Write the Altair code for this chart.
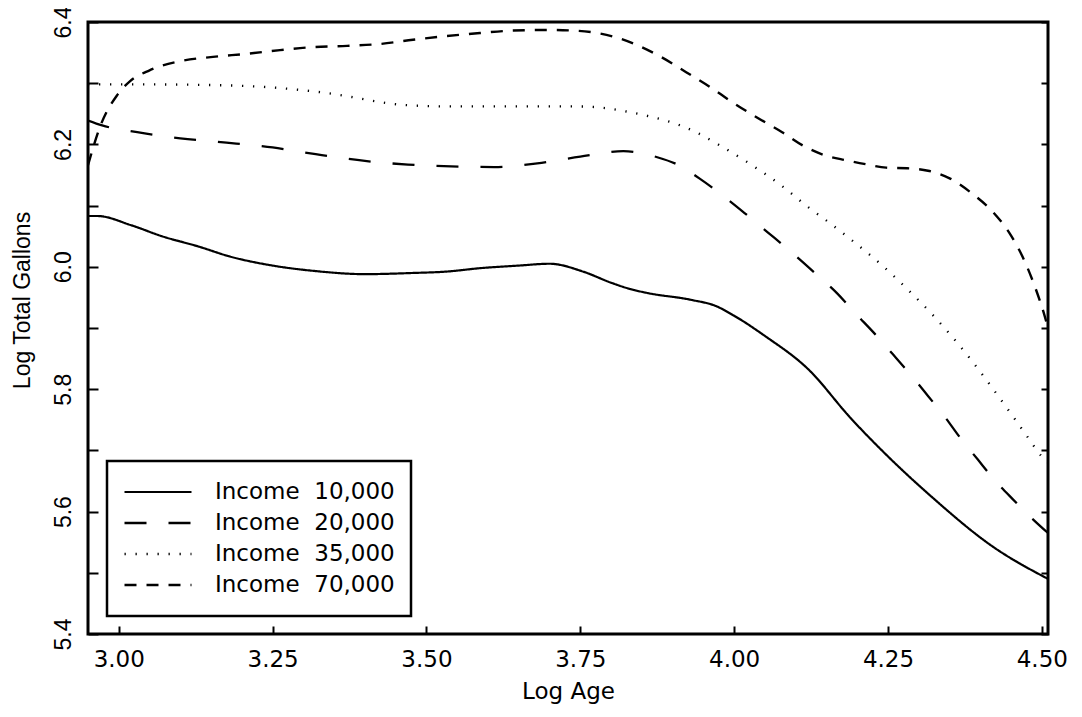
import altair as alt
import pandas as pd

series_names = ["Income\u00a0 10,000", "Income\u00a0 20,000", "Income\u00a0 35,000", "Income\u00a0 70,000"]

inc10_x = [2.95, 2.965, 3.02, 3.07, 3.13, 3.18, 3.25, 3.32, 3.40, 3.48, 3.53, 3.59, 3.65, 3.70, 3.755,
           3.80, 3.83, 3.86, 3.93, 3.97, 4.00, 4.05, 4.12, 4.19, 4.24, 4.32, 4.42, 4.51]
inc10_y = [6.083, 6.083, 6.068, 6.05, 6.033, 6.017, 6.002, 5.993, 5.988, 5.99, 5.992, 5.998, 6.002, 6.005, 5.992,
           5.974, 5.964, 5.957, 5.946, 5.936, 5.92, 5.887, 5.833, 5.752, 5.70, 5.625, 5.543, 5.49]

inc20_x = [2.95, 2.973, 3.03, 3.10, 3.175, 3.25, 3.32, 3.40, 3.47, 3.54, 3.61, 3.68, 3.75, 3.82, 3.875,
           3.91, 3.944, 3.982, 4.018, 4.055, 4.094, 4.131, 4.167, 4.198, 4.229, 4.258, 4.289, 4.315,
           4.343, 4.367, 4.396, 4.421, 4.453, 4.486, 4.51]
inc20_y = [6.239, 6.231, 6.22, 6.21, 6.203, 6.195, 6.184, 6.173, 6.167, 6.164, 6.163, 6.169, 6.18, 6.189, 6.179,
           6.166, 6.144, 6.116, 6.087, 6.056, 6.023, 5.99, 5.957, 5.923, 5.89, 5.857, 5.821, 5.789,
           5.754, 5.721, 5.685, 5.654, 5.62, 5.587, 5.565]

inc35_x = [2.95, 3.05, 3.15, 3.25, 3.33, 3.47, 3.54, 3.62, 3.70, 3.75, 3.834, 3.938, 3.974, 4.029, 4.083,
           4.117, 4.152, 4.188, 4.243, 4.291, 4.323, 4.364, 4.452, 4.476, 4.50, 4.51]
inc35_y = [6.298, 6.298, 6.297, 6.293, 6.285, 6.264, 6.262, 6.262, 6.262, 6.262, 6.252, 6.22, 6.20, 6.166, 6.128,
           6.10, 6.074, 6.046, 6.0, 5.954, 5.921, 5.874, 5.757, 5.723, 5.69, 5.68]

inc70_x = [2.95, 2.97, 2.997, 3.018, 3.05, 3.10, 3.153, 3.208, 3.262, 3.316, 3.371, 3.424, 3.478, 3.533,
           3.587, 3.64, 3.696, 3.74, 3.811, 3.881, 3.922, 3.962, 3.997, 4.037, 4.078, 4.112, 4.148, 4.182,
           4.217, 4.247, 4.281, 4.315, 4.351, 4.385, 4.421, 4.45, 4.473, 4.49, 4.503, 4.51]
inc70_y = [6.166, 6.23, 6.28, 6.303, 6.321, 6.336, 6.343, 6.348, 6.354, 6.359, 6.361, 6.364, 6.371, 6.377,
           6.382, 6.386, 6.387, 6.386, 6.374, 6.343, 6.318, 6.293, 6.269, 6.244, 6.22, 6.198, 6.182, 6.174,
           6.167, 6.162, 6.161, 6.157, 6.144, 6.121, 6.089, 6.051, 6.007, 5.964, 5.925, 5.90]

x_ticks = [3.00, 3.25, 3.50, 3.75, 4.00, 4.25, 4.50]
y_ticks = [5.4, 5.5, 5.6, 5.7, 5.8, 5.9, 6.0, 6.1, 6.2, 6.3, 6.4]

rows = []
for name, xs_, ys_ in zip(series_names, [inc10_x, inc20_x, inc35_x, inc70_x], [inc10_y, inc20_y, inc35_y, inc70_y]):
    for i, (a, g) in enumerate(zip(xs_, ys_)):
        rows.append({"series": name, "age": a, "gal": g, "order": i})
df = pd.DataFrame(rows)

dash_range = [[1, 0], [22, 22], [1.3, 9.7], [12, 10]]
width_range = [2.2, 2.4, 1.3, 2.0]

xs = alt.Scale(domain=[2.95, 4.51], nice=False, zero=False)
ys = alt.Scale(domain=[5.4, 6.4], nice=False, zero=False)

x_axis = alt.Axis(values=x_ticks, format=".2f", title="Log Age", domain=False, grid=False,
                  ticks=True, tickSize=8, offset=-8, tickWidth=2, tickColor="black",
                  labelPadding=14, labelFont="DejaVu Sans", labelFontSize=23, labelColor="black",
                  labelFlush=False, labelOverlap=False,
                  titleFont="DejaVu Sans", titleFontSize=23, titleFontWeight="normal", titleColor="black",
                  titleY=65, titleBaseline="middle")

y_axis = alt.Axis(values=y_ticks,
                  labelExpr="abs(datum.value*10 - 2*round(datum.value*5)) < 0.01 ? format(datum.value, '.1f') : ''",
                  title="Log Total Gallons", domain=False, grid=False,
                  ticks=True, tickSize=10, offset=-10, tickWidth=2, tickColor="black",
                  labelAngle=270, labelAlign="center", labelBaseline="middle", labelPadding=25,
                  labelFont="Liberation Sans", labelFontSize=23, labelColor="black",
                  labelFlush=False, labelOverlap=False,
                  titleFont="Liberation Sans", titleFontSize=23, titleFontWeight="normal",
                  titleColor="black", titleAngle=270, titleX=-76, titleY=278,
                  titleAlign="center", titleBaseline="middle")

legend = alt.Legend(title=None, orient="none", legendX=19, legendY=439, symbolType="stroke",
                    symbolSize=4489, symbolStrokeWidth=2, symbolStrokeColor="black",
                    labelFont="DejaVu Sans", labelFontSize=23, labelColor="black", labelOffset=22,
                    labelLimit=0, padding=16, rowPadding=1, clipHeight=30,
                    strokeColor="black", fillColor="white")

lines = alt.Chart(df).mark_line(interpolate="monotone", color="black", clip=True).encode(
    x=alt.X("age:Q", scale=xs, axis=x_axis),
    y=alt.Y("gal:Q", scale=ys, axis=y_axis),
    strokeDash=alt.StrokeDash("series:N", scale=alt.Scale(domain=series_names, range=dash_range), legend=legend),
    strokeWidth=alt.StrokeWidth("series:N", scale=alt.Scale(domain=series_names, range=width_range), legend=None),
    detail="series:N",
    order="order:Q",
)

right = alt.Chart(df).mark_line(opacity=0).encode(
    x=alt.X("age:Q", scale=xs, axis=x_axis),
    y=alt.Y("gal:Q", scale=ys, axis=alt.Axis(orient="right", values=y_ticks, labels=False, ticks=True,
                                             tickSize=7, offset=-7, tickWidth=2, tickColor="black",
                                             domain=False, grid=False, title=None)),
    detail="series:N",
    order="order:Q",
)

chart = alt.layer(lines, right).resolve_scale(y="independent").properties(
    width=960, height=612,
    autosize=alt.AutoSizeParams(type="none"),
    padding={"left": 80, "top": 14, "right": 26, "bottom": 80},
    background="white",
).configure_view(stroke="black", strokeWidth=3).configure_legend(strokeWidth=2.5)

chart.save("out.html", embed_options={"renderer": "svg", "actions": False})
